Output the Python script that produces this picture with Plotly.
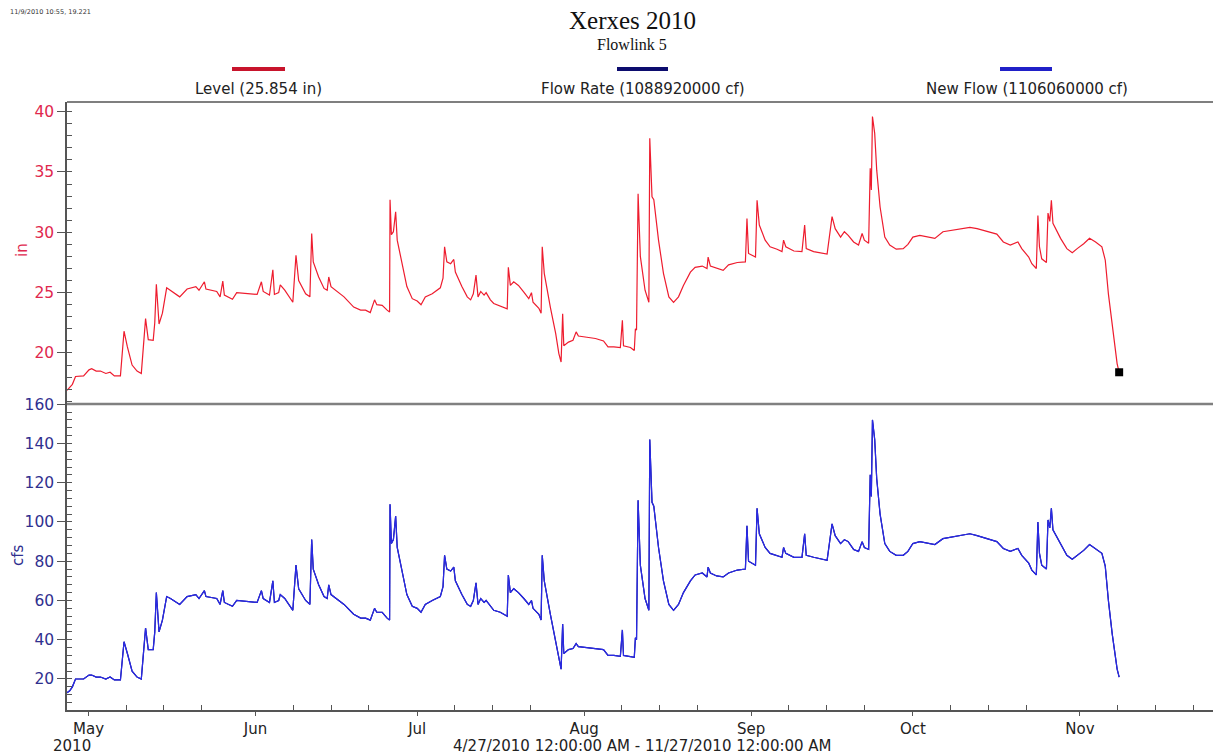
import plotly.graph_objects as go

W, H = 1213, 755

# ---------------- data ----------------
dates = [
    "2010-04-27 00:00", "2010-04-27 12:00", "2010-04-28 00:00", "2010-04-28 14:00", "2010-04-30 02:00",
    "2010-05-01 02:00", "2010-05-01 14:00", "2010-05-02 10:00", "2010-05-03 05:00", "2010-05-04 05:00",
    "2010-05-05 00:00", "2010-05-05 19:00", "2010-05-06 22:00", "2010-05-07 14:00", "2010-05-08 05:00",
    "2010-05-09 02:00", "2010-05-10 00:00", "2010-05-10 19:00", "2010-05-11 14:00", "2010-05-12 02:00",
    "2010-05-13 00:00", "2010-05-13 07:00", "2010-05-13 14:00", "2010-05-14 02:00", "2010-05-14 17:00",
    "2010-05-15 12:00", "2010-05-16 05:00", "2010-05-17 22:00", "2010-05-19 07:00", "2010-05-20 22:00",
    "2010-05-21 12:00", "2010-05-22 12:00", "2010-05-22 19:00", "2010-05-24 19:00", "2010-05-25 10:00",
    "2010-05-25 22:00", "2010-05-26 05:00", "2010-05-27 17:00", "2010-05-28 12:00", "2010-05-30 12:00",
    "2010-06-01 07:00", "2010-06-02 02:00", "2010-06-02 10:00", "2010-06-03 14:00", "2010-06-04 05:00",
    "2010-06-04 12:00", "2010-06-05 07:00", "2010-06-05 14:00", "2010-06-06 10:00", "2010-06-07 22:00",
    "2010-06-08 12:00", "2010-06-09 00:00", "2010-06-10 07:00", "2010-06-11 02:00", "2010-06-11 10:00",
    "2010-06-11 17:00", "2010-06-12 17:00", "2010-06-13 17:00", "2010-06-14 07:00", "2010-06-14 14:00",
    "2010-06-15 00:00", "2010-06-17 10:00", "2010-06-19 05:00", "2010-06-20 12:00", "2010-06-21 10:00",
    "2010-06-22 07:00", "2010-06-23 02:00", "2010-06-23 12:00", "2010-06-24 12:00", "2010-06-25 10:00",
    "2010-06-25 21:00", "2010-06-25 23:00", "2010-06-26 05:00", "2010-06-26 14:00", "2010-06-27 00:00",
    "2010-06-27 07:00", "2010-06-28 05:00", "2010-06-29 02:00", "2010-06-30 02:00", "2010-07-01 00:00",
    "2010-07-01 17:00", "2010-07-02 12:00", "2010-07-03 19:00", "2010-07-04 17:00", "2010-07-05 07:00",
    "2010-07-05 19:00", "2010-07-06 02:00", "2010-07-06 12:00", "2010-07-07 05:00", "2010-07-07 19:00",
    "2010-07-08 02:00", "2010-07-09 07:00", "2010-07-10 07:00", "2010-07-10 22:00", "2010-07-11 10:00",
    "2010-07-11 22:00", "2010-07-12 07:00", "2010-07-12 19:00", "2010-07-13 10:00", "2010-07-13 19:00",
    "2010-07-14 14:00", "2010-07-15 05:00", "2010-07-16 10:00", "2010-07-17 17:00", "2010-07-17 22:00",
    "2010-07-18 07:00", "2010-07-18 22:00", "2010-07-19 19:00", "2010-07-20 19:00", "2010-07-21 17:00",
    "2010-07-22 05:00", "2010-07-22 12:00", "2010-07-23 14:00", "2010-07-24 00:00", "2010-07-24 05:00",
    "2010-07-24 14:00", "2010-07-25 17:00", "2010-07-26 17:00", "2010-07-27 07:00", "2010-07-27 17:00",
    "2010-07-28 00:00", "2010-07-28 05:00", "2010-07-29 02:00", "2010-07-29 22:00", "2010-07-30 12:00",
    "2010-07-30 22:00", "2010-08-01 12:00", "2010-08-03 02:00", "2010-08-04 14:00", "2010-08-05 10:00",
    "2010-08-06 12:00", "2010-08-07 17:00", "2010-08-08 02:00", "2010-08-08 07:00", "2010-08-09 14:00",
    "2010-08-10 07:00", "2010-08-10 12:00", "2010-08-10 17:00", "2010-08-11 00:00", "2010-08-11 10:00",
    "2010-08-12 07:00", "2010-08-13 00:00", "2010-08-13 04:00", "2010-08-13 14:00", "2010-08-13 22:00",
    "2010-08-14 19:00", "2010-08-15 17:00", "2010-08-16 17:00", "2010-08-17 14:00", "2010-08-18 12:00",
    "2010-08-19 10:00", "2010-08-20 17:00", "2010-08-21 14:00", "2010-08-22 22:00", "2010-08-23 19:00",
    "2010-08-24 00:00", "2010-08-24 10:00", "2010-08-25 14:00", "2010-08-26 19:00", "2010-08-27 19:00",
    "2010-08-29 10:00", "2010-08-30 22:00", "2010-08-31 05:00", "2010-08-31 12:00", "2010-09-01 19:00",
    "2010-09-02 02:00", "2010-09-02 12:00", "2010-09-03 14:00", "2010-09-04 12:00", "2010-09-05 19:00",
    "2010-09-06 17:00", "2010-09-07 00:00", "2010-09-07 10:00", "2010-09-08 22:00", "2010-09-10 10:00",
    "2010-09-10 22:00", "2010-09-11 05:00", "2010-09-12 14:00", "2010-09-14 02:00", "2010-09-15 02:00",
    "2010-09-16 00:00", "2010-09-16 14:00", "2010-09-17 14:00", "2010-09-18 07:00", "2010-09-19 00:00",
    "2010-09-20 00:00", "2010-09-20 22:00", "2010-09-21 14:00", "2010-09-22 00:00", "2010-09-22 19:00",
    "2010-09-23 02:00", "2010-09-23 07:00", "2010-09-23 12:00", "2010-09-23 22:00", "2010-09-24 07:00",
    "2010-09-24 22:00", "2010-09-25 19:00", "2010-09-26 17:00", "2010-09-27 22:00", "2010-09-29 05:00",
    "2010-09-30 02:00", "2010-10-01 00:00", "2010-10-02 07:00", "2010-10-04 02:00", "2010-10-05 02:00",
    "2010-10-06 14:00", "2010-10-08 12:00", "2010-10-11 14:00", "2010-10-12 22:00", "2010-10-14 17:00",
    "2010-10-16 14:00", "2010-10-17 19:00", "2010-10-19 02:00", "2010-10-20 12:00", "2010-10-21 05:00",
    "2010-10-22 12:00", "2010-10-23 02:00", "2010-10-23 22:00", "2010-10-24 05:00", "2010-10-24 12:00",
    "2010-10-24 22:00", "2010-10-25 19:00", "2010-10-26 02:00", "2010-10-26 10:00", "2010-10-26 17:00",
    "2010-10-27 00:00", "2010-10-28 10:00", "2010-10-29 14:00", "2010-10-30 14:00", "2010-10-31 12:00",
    "2010-11-01 17:00", "2010-11-02 19:00", "2010-11-03 22:00", "2010-11-05 02:00", "2010-11-05 17:00",
    "2010-11-06 07:00", "2010-11-07 00:00", "2010-11-07 22:00", "2010-11-08 07:00",
]

level_in = [
    16.9, 17.2, 17.4, 18.05, 18.1, 18.6, 18.7, 18.5, 18.5, 18.3,
    18.4, 18.1, 18.1, 21.8, 20.5, 19.0, 18.5, 18.3, 22.85, 21.1,
    21.05, 22.5, 25.7, 22.4, 23.3, 25.4, 25.2, 24.65, 25.3, 25.5,
    25.2, 25.9, 25.3, 25.1, 24.65, 25.95, 24.8, 24.45, 25.0, 24.9,
    24.85, 25.9, 25.1, 24.8, 26.9, 24.85, 25.0, 25.65, 25.2, 24.2,
    28.1, 26.0, 24.9, 24.65, 29.9, 27.55, 26.3, 25.35, 25.2, 26.3,
    25.5, 24.65, 23.8, 23.55, 23.55, 23.35, 24.4, 24.0, 23.95, 23.55,
    23.4, 32.7, 29.8, 30.05, 31.7, 29.35, 27.4, 25.5, 24.5, 24.3,
    24.0, 24.65, 24.9, 25.25, 25.4, 26.2, 28.8, 27.55, 27.4, 27.75,
    26.7, 25.5, 24.65, 24.4, 24.9, 26.45, 24.65, 25.1, 24.8, 25.0,
    24.4, 24.1, 23.9, 23.65, 27.1, 25.6, 25.9, 25.6, 25.05, 24.5,
    25.0, 24.2, 23.7, 23.3, 28.8, 26.6, 23.8, 21.6, 19.95, 19.25,
    23.25, 20.6, 20.9, 21.05, 21.75, 21.4, 21.3, 21.2, 21.0, 20.5,
    20.5, 20.45, 22.7, 20.6, 20.45, 20.2, 22.0, 21.9, 33.2, 28.0,
    25.2, 24.2, 37.8, 32.95, 32.7, 29.35, 26.6, 24.65, 24.2, 24.65,
    25.6, 26.7, 27.1, 27.2, 27.0, 27.95, 27.2, 27.0, 26.85, 27.3,
    27.5, 27.55, 31.15, 28.25, 27.95, 32.65, 30.6, 29.35, 28.8, 28.6,
    28.4, 29.35, 28.8, 28.45, 28.4, 30.6, 28.65, 28.4, 28.25, 28.2,
    31.3, 30.3, 29.6, 30.05, 29.75, 29.2, 28.95, 29.9, 29.35, 29.1,
    35.3, 33.5, 39.6, 38.2, 35.15, 32.1, 29.6, 28.95, 28.6, 28.65,
    29.0, 29.6, 29.75, 29.6, 29.5, 30.05, 30.2, 30.4, 30.3, 30.05,
    29.85, 29.2, 28.95, 29.2, 28.65, 27.95, 27.4, 27.0, 31.4, 28.8,
    27.8, 27.5, 31.6, 30.9, 32.65, 30.75, 29.5, 28.65, 28.3, 28.65,
    29.05, 29.5, 29.2, 28.8, 27.7, 24.9, 22.15, 19.1, 18.4,
]

flow_rate_cfs = [
    13, 14, 16, 20, 20, 22, 22, 21, 21, 20,
    21, 19.5, 19.5, 39, 33, 24, 21, 20, 46, 35,
    35, 44, 64, 44, 50, 62, 61, 58, 62, 63,
    61, 65, 62, 61, 58, 65, 59, 57, 60, 59.5,
    59, 65, 61, 59, 70, 59, 60, 63, 61, 55,
    78, 66, 60, 58, 91, 76, 68, 62, 61, 68,
    63, 58, 53, 51, 51, 50, 56, 54, 54, 51,
    50, 109, 89, 91, 103, 87, 74, 63, 57, 56,
    54, 58, 60, 61, 62, 67, 83, 76, 75, 77,
    70, 63, 58, 57, 60, 69, 58, 61, 59, 60,
    57, 55, 54, 52, 73, 64, 66, 64, 61, 58,
    60, 56, 53, 50, 83, 70, 53, 39, 29, 25,
    48, 33, 35, 35.5, 38, 36.5, 36, 35.5, 35, 32,
    32, 31.5, 45, 32, 31.5, 31, 41, 40, 111, 78,
    61, 55, 142, 110, 108, 87, 70, 58, 55, 58,
    64, 70, 73, 74, 72, 77, 74, 72.5, 72, 74,
    75.5, 76, 98, 80, 78, 107, 94, 87, 84, 83,
    82, 87, 84, 82, 82, 94, 83, 82, 81, 80.5,
    99, 93, 89, 91, 90, 86, 85, 90, 87, 86,
    124, 113, 152, 142, 122, 104, 89, 85, 83, 83,
    85, 89, 90, 89, 88.5, 91.5, 92.5, 94, 93, 91.5,
    90, 86.5, 85, 86.5, 83, 79, 75.5, 73, 100, 84,
    78, 76, 101, 97, 107, 96, 88.5, 83, 81, 83,
    85.5, 88.5, 86.5, 84, 77.5, 60, 43, 25, 21,
]

# New Flow plots on top of Flow Rate and is indistinguishable at this scale
new_flow_cfs = list(flow_rate_cfs)

month_ticks = ["2010-05-01", "2010-06-01", "2010-07-01", "2010-08-01",
               "2010-09-01", "2010-10-01", "2010-11-01"]
month_labels = ["May", "Jun", "Jul", "Aug", "Sep", "Oct", "Nov"]

legend_labels = ["Level (25.854 in)", "Flow Rate (1088920000 cf)", "New Flow (1106060000 cf)"]

assert len(dates) == len(level_in) == len(flow_rate_cfs)

# ---------------- styling ----------------
RED = "#ee1c2e"
NAVY = "#000080"
BLUE = "#2a2ae6"
AXIS = "#555555"
SANS = "DejaVu Sans, Liberation Sans, sans-serif"
SERIF = "Liberation Serif, Times New Roman, serif"


def px(x):
    return x / W


def py(y):
    return 1 - y / H


fig = go.Figure()
fig.add_trace(go.Scatter(x=dates, y=level_in, mode="lines", name=legend_labels[0],
                         line=dict(color=RED, width=1.2), xaxis="x", yaxis="y"))
fig.add_trace(go.Scatter(x=dates, y=flow_rate_cfs, mode="lines", name=legend_labels[1],
                         line=dict(color=NAVY, width=1.2), xaxis="x", yaxis="y2"))
fig.add_trace(go.Scatter(x=dates, y=new_flow_cfs, mode="lines", name=legend_labels[2],
                         line=dict(color=BLUE, width=1.2), xaxis="x", yaxis="y2"))
fig.add_trace(go.Scatter(x=[dates[-1]], y=[level_in[-1]], mode="markers", showlegend=False,
                         marker=dict(symbol="square", size=8, color="black"),
                         xaxis="x", yaxis="y"))

# weekly minor ticks on the 8th, 15th and 22nd of each month
minor_x = []
for m in range(5, 12):
    for d in (8, 15, 22):
        minor_x.append(f"2010-{m:02d}-{d:02d}")

top_y0, top_y1 = py(404), py(102)
bot_y0, bot_y1 = py(710), py(404)

fig.update_layout(
    width=W, height=H,
    margin=dict(l=0, r=0, t=0, b=0),
    paper_bgcolor="white", plot_bgcolor="white",
    showlegend=False,
    font=dict(family=SANS, size=14, color="#222"),
    xaxis=dict(
        type="date", domain=[px(67), 1], anchor="y2",
        range=["2010-04-27 00:00", "2010-11-25 17:00"],
        tickmode="array", tickvals=month_ticks, ticktext=month_labels,
        ticks="outside", ticklen=4, tickwidth=1, tickcolor=AXIS,
        tickfont=dict(family=SANS, size=15, color="#222"),
        showline=True, linecolor=AXIS, linewidth=1.5,
        showgrid=False, zeroline=False, automargin=False,
        minor=dict(tickmode="array", tickvals=minor_x, ticks="inside",
                   ticklen=5, tickcolor=AXIS, showgrid=False),
    ),
    yaxis=dict(
        domain=[top_y0, top_y1], anchor="x",
        range=[15.77, 40.8],
        tickmode="linear", tick0=0, dtick=5,
        ticks="outside", ticklen=8, tickwidth=1, tickcolor=AXIS,
        tickfont=dict(family=SANS, size=15.5, color="#e0284e"),
        showline=True, linecolor=AXIS, linewidth=1.5,
        showgrid=False, zeroline=False, automargin=False,
        minor=dict(tickmode="linear", tick0=0, dtick=1, ticks="inside",
                   ticklen=5, tickcolor=AXIS, showgrid=False),
    ),
    yaxis2=dict(
        domain=[bot_y0, bot_y1], anchor="x",
        range=[4.2, 160.1],
        tickmode="linear", tick0=0, dtick=20,
        ticks="outside", ticklen=8, tickwidth=1, tickcolor=AXIS,
        tickfont=dict(family=SANS, size=15.5, color="#30308f"),
        showline=True, linecolor=AXIS, linewidth=1.5,
        showgrid=False, zeroline=False, automargin=False,
        minor=dict(tickmode="linear", tick0=0, dtick=4, ticks="inside",
                   ticklen=5, tickcolor=AXIS, showgrid=False),
    ),
)

shapes = [
    # top border of the chart area
    dict(type="line", xref="paper", yref="paper", x0=px(67), x1=1, y0=py(102), y1=py(102),
         line=dict(color=AXIS, width=1.5)),
    # separator between panels
    dict(type="line", xref="paper", yref="paper", x0=px(67), x1=1, y0=py(404), y1=py(404),
         line=dict(color="#808080", width=2.5)),
]
# legend swatches
for (x0, x1, col) in [(232, 285, "#c8142c"), (617, 668, "#0c0c6e"), (1000, 1052, "#2020c8")]:
    shapes.append(dict(type="line", xref="paper", yref="paper", x0=px(x0), x1=px(x1),
                       y0=py(69), y1=py(69), line=dict(color=col, width=4)))
fig.update_layout(shapes=shapes)

ann = []


def add_text(text, x, y, size=14, color="#222", family=SANS, xanchor="center", angle=0):
    ann.append(dict(text=text, x=px(x), y=py(y), xref="paper", yref="paper",
                    showarrow=False, xanchor=xanchor, yanchor="middle", textangle=angle,
                    font=dict(family=family, size=size, color=color)))


add_text("11/9/2010 10:55, 19.221", 8, 12, size=6.5, color="#333", xanchor="left")
add_text("Xerxes 2010", 632, 21, size=25, color="#111", family=SERIF)
add_text("Flowlink 5", 632, 45, size=16, color="#111", family=SERIF)
add_text(legend_labels[0], 258, 89, size=15)
add_text(legend_labels[1], 643, 89, size=15)
add_text(legend_labels[2], 1027, 89, size=15)
add_text("2010", 72, 746, size=15)
add_text("4/27/2010 12:00:00 AM - 11/27/2010 12:00:00 AM", 642, 746, size=15)
add_text("in", 22, 250, size=15, color="#e0284e", angle=-90)
add_text("cfs", 18, 555, size=15, color="#30308f", angle=-90)
fig.update_layout(annotations=ann)

fig.write_html(
    "out.html",
    config={"displayModeBar": False},
    post_script="document.body.style.margin='0px';document.body.style.overflow='hidden';",
)
